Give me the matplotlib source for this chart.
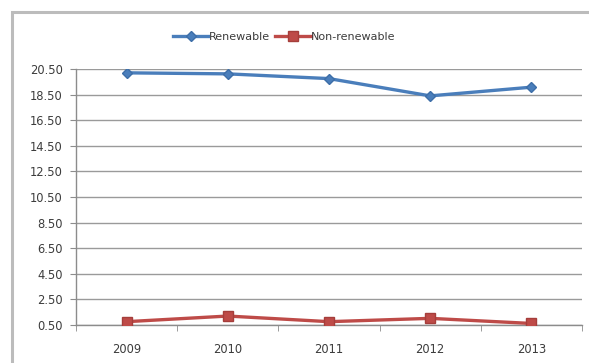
import matplotlib
matplotlib.use("Agg")
import matplotlib.pyplot as plt
from matplotlib.patches import Rectangle

years = ["2009", "2010", "2011", "2012", "2013"]
renewable = [20.2, 20.12, 19.75, 18.4, 19.08]
non_renewable = [0.76, 1.2, 0.76, 1.02, 0.62]
y_ticks = [0.5, 2.5, 4.5, 6.5, 8.5, 10.5, 12.5, 14.5, 16.5, 18.5, 20.5]

plt.rcParams["font.family"] = ["DejaVu Sans"]

fig = plt.figure(figsize=(5.89, 3.63), dpi=100)
fig.patch.set_facecolor("white")

# chart frame
fig.patches.append(Rectangle((12 / 589, -0.05), 1.05, 1 - 12 / 363 + 0.05,
                             transform=fig.transFigure, fill=False,
                             edgecolor="#bcbcbc", linewidth=2.2))

ax = fig.add_axes([76 / 589, 1 - 325 / 363, (582 - 76) / 589, (325 - 69) / 363])
x = list(range(len(years)))

ax.plot(x, renewable, color="#4a7ebb", linewidth=2.4, marker="D",
        markersize=5.5, markerfacecolor="#4a7ebb", markeredgecolor="#3d6ea8",
        label="Renewable", zorder=3)
ax.plot(x, non_renewable, color="#be4b48", linewidth=2.4, marker="s",
        markersize=7.5, markerfacecolor="#be4b48", markeredgecolor="#a53e3b",
        label="Non-renewable", zorder=3)

ax.set_xlim(-0.5, len(years) - 0.5)
ax.set_ylim(0.5, 20.5)
ax.set_yticks(y_ticks)
ax.set_yticklabels([f"{v:.2f}" for v in y_ticks])
ax.set_xticks(x)
ax.set_xticklabels(years)
ax.set_xticks([i - 0.5 for i in range(len(years) + 1)], minor=True)

ax.grid(axis="y", color="#9a9a9a", linewidth=1.0)
ax.set_axisbelow(True)
for side in ["top", "right"]:
    ax.spines[side].set_visible(False)
for side in ["left", "bottom"]:
    ax.spines[side].set_color("#8c8c8c")
    ax.spines[side].set_linewidth(1.0)

ax.tick_params(axis="y", length=4.5, color="#8c8c8c", labelsize=8.3,
               labelcolor="#3c3c3c", pad=5)
ax.tick_params(axis="x", which="major", length=0, labelsize=8.3,
               labelcolor="#3c3c3c", pad=13)
ax.tick_params(axis="x", which="minor", length=4.5, color="#8c8c8c")

leg = fig.legend(loc="center", bbox_to_anchor=(284 / 589, 1 - 37 / 363), ncol=2,
                 frameon=False, fontsize=8, handlelength=3.2, columnspacing=0.5,
                 handletextpad=0.0, labelcolor="#3c3c3c", markerscale=0.9)

fig.savefig("out.png", dpi=100)
